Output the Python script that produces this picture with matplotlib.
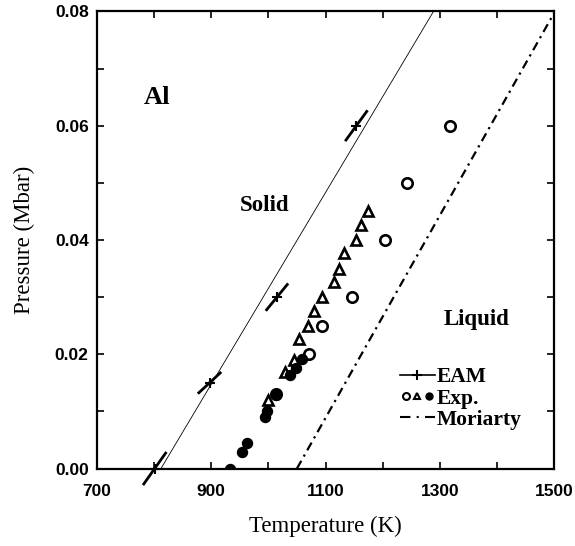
import matplotlib
matplotlib.use("Agg")
import matplotlib.pyplot as plt
from matplotlib.lines import Line2D
from matplotlib.legend_handler import HandlerTuple
from matplotlib.ticker import FixedLocator, MultipleLocator, FormatStrFormatter

# EAM melting points with tilted error bars, plus the fitted line
eam_T = [801, 897, 1015, 1154]
eam_P = [0.0, 0.015, 0.030, 0.060]
eam_dT = [20.5, 20.5, 19.6, 19.6]
eam_dP = [0.0029, 0.0019, 0.0024, 0.0027]
eam_line_T = [812, 1289]
eam_line_P = [0.0, 0.08]

# experiment, open circles
exp_circ_T = [1318, 1243, 1204, 1146, 1093, 1071, 1014]
exp_circ_P = [0.060, 0.050, 0.040, 0.030, 0.025, 0.020, 0.013]

# experiment, open triangles
exp_tri_T = [1174, 1162, 1154, 1133, 1124, 1114, 1093, 1079, 1069, 1054, 1044, 1029, 999]
exp_tri_P = [0.045, 0.0426, 0.040, 0.0377, 0.035, 0.0326, 0.030, 0.0275, 0.025, 0.0227,
             0.019, 0.0169, 0.012]

# experiment, filled circles
exp_dot_T = [1058, 1049, 1038, 1014, 998, 994, 963, 953, 933]
exp_dot_P = [0.0191, 0.0176, 0.0164, 0.0128, 0.0100, 0.0090, 0.0045, 0.0029, 0.0]

# Moriarty line
mor_T = [1050, 1500]
mor_P = [0.0, 0.0797]

x_major = [700, 900, 1100, 1300, 1500]

serif = "Liberation Serif"
sans = "Liberation Sans"

fig = plt.figure(figsize=(5.75, 5.46), dpi=100)
ax = fig.add_axes([0.1687, 0.1419, 0.7948, 0.8371])

ax.plot(eam_line_T, eam_line_P, color="black", lw=0.6)
for t, p, dt, dp in zip(eam_T, eam_P, eam_dT, eam_dP):
    ax.plot([t - dt, t + dt], [p - dp, p + dp], color="black", lw=2.0,
            solid_capstyle="butt", clip_on=False)
ax.plot(eam_T, eam_P, ls="none", marker="+", ms=7, mew=1.5, color="black", clip_on=False)

ax.plot(exp_circ_T, exp_circ_P, ls="none", marker="o", ms=7.5, mfc="white",
        mec="black", mew=1.9)
ax.plot(exp_tri_T, exp_tri_P, ls="none", marker="^", ms=7.8, mfc="white",
        mec="black", mew=1.9)
ax.plot(exp_dot_T, exp_dot_P, ls="none", marker="o", ms=7.2, color="black")

ax.plot(mor_T, mor_P, color="black", lw=1.6, ls=(0, (4, 2.2, 1, 2.2)))

ax.set_xlim(700, 1500)
ax.set_ylim(0, 0.08)
ax.xaxis.set_major_locator(FixedLocator(x_major))
ax.xaxis.set_minor_locator(MultipleLocator(100))
ax.yaxis.set_major_locator(MultipleLocator(0.02))
ax.yaxis.set_minor_locator(MultipleLocator(0.01))
ax.yaxis.set_major_formatter(FormatStrFormatter("%.2f"))
ax.tick_params(which="both", direction="in", top=True, right=True, width=1.2, length=5)
ax.tick_params(axis="x", pad=11)
ax.tick_params(axis="y", pad=6)
for lab in ax.get_xticklabels() + ax.get_yticklabels():
    lab.set_fontfamily(sans)
    lab.set_fontweight("bold")
    lab.set_fontsize(12.5)
for s in ax.spines.values():
    s.set_linewidth(1.6)

ax.set_xlabel("Temperature (K)", fontfamily=serif, fontsize=16.5, labelpad=12)
ax.set_ylabel("Pressure (Mbar)", fontfamily=serif, fontsize=16.5, labelpad=14)

ax.text(805, 0.065, "Al", fontfamily=serif, fontweight="bold", fontsize=19,
        ha="center", va="center")
ax.text(994, 0.0461, "Solid", fontfamily=serif, fontweight="bold", fontsize=16.5,
        ha="center", va="center")
ax.text(1364, 0.026, "Liquid", fontfamily=serif, fontweight="bold", fontsize=16.5,
        ha="center", va="center")

h_eam = Line2D([], [], color="black", lw=1.2, marker="+", ms=7, mew=1.5)
h_c = Line2D([], [], ls="none", marker="o", ms=5, mfc="white", mec="black", mew=1.5)
h_t = Line2D([], [], ls="none", marker="^", ms=5, mfc="white", mec="black", mew=1.5)
h_d = Line2D([], [], ls="none", marker="o", ms=5, color="black")
h_mor = Line2D([], [], color="black", lw=1.5, ls=(0, (5, 3, 1, 3)))
ax.legend([h_eam, (h_c, h_t, h_d), h_mor], ["EAM", "Exp.", "Moriarty"],
          handler_map={tuple: HandlerTuple(ndivide=None, pad=0.0)},
          loc="upper left", bbox_to_anchor=(0.64, 0.245), frameon=False,
          handlelength=1.6, handletextpad=0.1, labelspacing=0.05, borderpad=0,
          prop={"family": serif, "weight": "bold", "size": 15.5})

fig.savefig("out.png", dpi=100)
